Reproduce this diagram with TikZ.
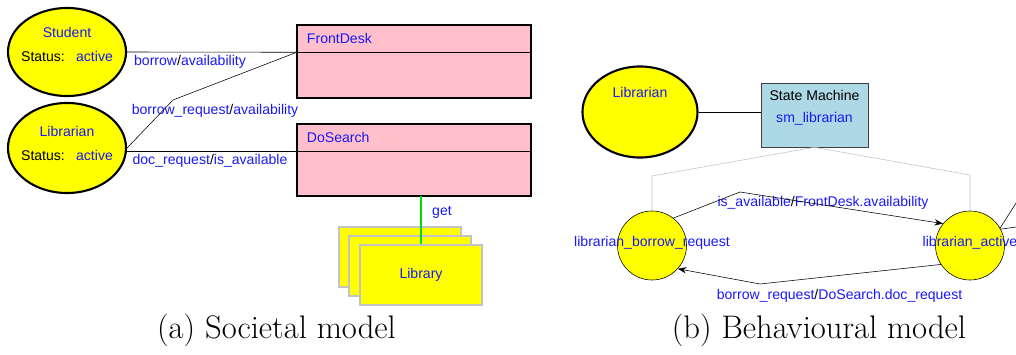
\documentclass[tikz,border=0pt]{standalone}
\usepackage{fontspec}
\usepackage{xcolor}
\usepackage{tikz}
\usetikzlibrary{shapes.geometric,arrows.meta}
\newfontfamily\guifont{Liberation Sans}
\definecolor{class1}{RGB}{255,192,203}
\definecolor{name1}{RGB}{25,25,245}
\definecolor{machine1}{RGB}{173,216,230}
\definecolor{link1}{RGB}{195,195,195}
\definecolor{get1}{RGB}{0,220,0}
\definecolor{obj1}{RGB}{255,255,0}

\begin{document}
\begin{tikzpicture}[x=0.025cm, y=0.025cm,
  txt/.style={inner sep=1pt, font=\guifont\fontsize{10}{12}\selectfont},
  bluetxt/.style={txt, text=name1},
  obj/.style={ellipse, draw, line width=1.5pt, fill=obj1, minimum width=2.95cm, minimum height=2.2cm},
  classhead/.style={bluetxt, rectangle, draw, fill=class1, minimum width=5.85cm, minimum height=0.675cm, text width=5.35cm, inner xsep=0.25cm, inner ysep=0pt, align=left},
  classbody/.style={rectangle, draw, fill=class1, minimum width=5.85cm, inner sep=0pt},
  classframe/.style={line width=1.5pt},
  lbry/.style={bluetxt, rectangle, draw=link1, line width=1pt, fill=obj1, minimum width=3.05cm, minimum height=1.5cm},
  smbox/.style={rectangle, draw=black!75, fill=machine1, minimum width=2.675cm, minimum height=1.6cm},
  stateobj/.style={circle, draw, fill=obj1, minimum size=1.725cm, inner sep=0pt},
  trans/.style={-{Stealth[length=6pt,width=4.5pt]}},
  caption/.style={inner sep=0pt, font=\fontsize{23.2}{27}\selectfont}
]
\clip (0,0) rectangle (1016,354);

\node[obj] (stu) at (67,302) {};
\node[bluetxt] (stuname) at (67,322) {Student};
\node[txt] (stustat) at (67,298) {Status:\hspace{8pt}\textcolor{name1}{active}};
\node[obj, minimum height=2.25cm] (lbr) at (67,206) {};
\node[bluetxt] (lbrname) at (67,223) {Librarian};
\node[txt] (lbrstat) at (67,199) {Status:\hspace{8pt}\textcolor{name1}{active}};

\node[classhead] (fdhead) at (414,315.5) {FrontDesk};
\node[classbody, minimum height=1.125cm, anchor=north] (fdbody) at (fdhead.south) {};
\draw[classframe] (fdhead.north west) rectangle (fdbody.south east);
\node[classhead] (dshead) at (414,216.5) {DoSearch};
\node[classbody, minimum height=1.1cm, anchor=north] (dsbody) at (dshead.south) {};
\draw[classframe] (dshead.north west) rectangle (dsbody.south east);

\draw (stu.east) -- (fdhead.south west);
\node[bluetxt] (l1) at (190,292) {borrow\textcolor{black}{/}availability};
\coordinate (b1) at (173,254);
\draw (lbr.east) -- (b1) -- (fdhead.south west);
\node[bluetxt] (l2) at (215,243) {borrow\_request\textcolor{black}{/}availability};
\draw (lbr.east |- dshead.south west) -- (dshead.south west);
\node[bluetxt] (l3) at (210,193) {doc\_request\textcolor{black}{/}is\_available};

\node[lbry] (lbry3) at (400,97) {};
\node[lbry] (lbry2) at (410,88) {};
\node[lbry] (lbry1) at (421,79) {Library};
\draw[get1, line width=1pt] (lbry1.north |- dsbody.south) -- (lbry1.north);
\node[bluetxt] (getname) at (442,142) {get};

\node[obj, minimum width=2.875cm, minimum height=2.275cm] (lbrb) at (640,242) {};
\node[bluetxt] (lbrbname) at (640,262) {Librarian};
\node[smbox] (sm) at (814.5,239) {};
\node[txt] (smtitle) at (814.5,259) {State Machine};
\node[bluetxt] (smname) at (814.5,235) {sm\_librarian};
\draw (lbrb.east) -- (lbrb.east -| sm.west);

\node[stateobj] (bor) at (652,108.5) {};
\node[stateobj] (act) at (970,108.5) {};
\coordinate (g1) at (652,178);
\coordinate (g2) at (970,179);
\draw[link1] (sm.south) -- (g1) -- (bor.north);
\draw[link1] (sm.south) -- (g2) -- (act.north);
\node[bluetxt] (borname) at (652,111) {librarian\_borrow\_request};
\node[bluetxt] (actname) at (970,111) {librarian\_active};

\node[bluetxt] (t1name) at (823,151) {is\_available\textcolor{black}{/}FrontDesk.availability};
\coordinate (t1) at (740,162);
\draw[trans] (bor.52) -- (t1) -- (act.141);
\node[bluetxt] (t2name) at (839.5,58) {borrow\_request\textcolor{black}{/}DoSearch.doc\_request};
\coordinate (t2) at (760,70);
\draw[trans] (act.213) -- (t2) -- (bor.-42);
\coordinate (lp1) at (1030,173);
\coordinate (lp2) at (1030,129);
\draw (act.30) -- (lp1);
\draw (act.28) -- (lp2);

\node[caption] (capa) at (276.5,24) {(a) Societal model};
\node[caption] (capb) at (819,24) {(b) Behavioural model};
\end{tikzpicture}
\end{document}
